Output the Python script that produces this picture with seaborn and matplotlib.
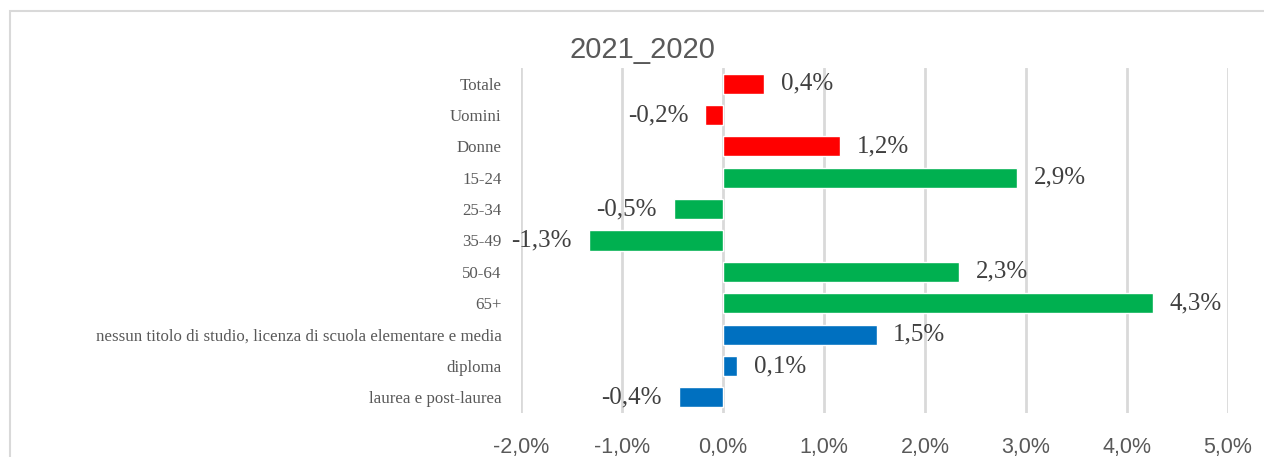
import matplotlib
matplotlib.use("Agg")
import matplotlib.pyplot as plt
import seaborn as sns
import pandas as pd
from matplotlib.patches import Rectangle

# ---- data ----
categories = ["Totale", "Uomini", "Donne", "15-24", "25-34", "35-49", "50-64", "65+",
              "nessun titolo di studio, licenza di scuola elementare e media",
              "diploma", "laurea e post-laurea"]
values = [0.0041, -0.0018, 0.0116, 0.0291, -0.0049, -0.0133, 0.0234, 0.0426, 0.0152, 0.0014, -0.0044]
value_labels = ["0,4%", "-0,2%", "1,2%", "2,9%", "-0,5%", "-1,3%", "2,3%", "4,3%", "1,5%", "0,1%", "-0,4%"]
groups = ["Totale", "Totale", "Totale", "Età", "Età", "Età", "Età", "Età",
          "Titolo", "Titolo", "Titolo"]
x_ticks = [-0.02, -0.01, 0.0, 0.01, 0.02, 0.03, 0.04, 0.05]
x_tick_labels = ["-2,0%", "-1,0%", "0,0%", "1,0%", "2,0%", "3,0%", "4,0%", "5,0%"]
title = "2021_2020"
palette = {"Totale": "#FF0000", "Età": "#00B050", "Titolo": "#0070C0"}

df = pd.DataFrame({"categoria": categories, "valore": values, "gruppo": groups})

sns.set_theme(style="white")
plt.rcParams["font.family"] = ["Liberation Serif", "DejaVu Serif"]

W, H = 1264, 457
fig = plt.figure(figsize=(W / 100, H / 100), dpi=100)
ax = fig.add_axes([521 / W, 1 - 413 / H, (1228 - 521) / W, (413 - 68) / H])

sns.barplot(data=df, y="categoria", x="valore", hue="gruppo", palette=palette,
            dodge=False, width=0.64, orient="h", legend=False, ax=ax,
            saturation=1, order=categories)

ax.set_xlim(-0.02, 0.05)
ax.set_ylim(len(categories) - 0.5, -0.5)
ax.set_xticks(x_ticks)
ax.set_xticklabels(x_tick_labels, fontfamily=["Liberation Sans", "DejaVu Sans"],
                   fontsize=15.5, color="#595959")
ax.tick_params(axis="x", length=0, pad=17)
ax.tick_params(axis="y", length=0, pad=14, labelsize=12.2, labelcolor="#595959")
ax.set_xlabel("")
ax.set_ylabel("")
ax.grid(axis="x", color="#D9D9D9", linewidth=2)
ax.set_axisbelow(True)
for s in ax.spines.values():
    s.set_visible(False)

for i, (v, lab) in enumerate(zip(values, value_labels)):
    off = 12 if v >= 0 else -12
    ax.annotate(lab, xy=(v, i), xytext=(off, 0), textcoords="offset points",
                ha="left" if v >= 0 else "right", va="center",
                fontsize=18, color="#404040")

fig.text(642 / W, 1 - 50 / H, title, ha="center", va="center",
         fontsize=21, color="#595959", fontfamily=["Liberation Sans", "DejaVu Sans"])

fig.patches.append(Rectangle((10 / W, -0.1), 1.2, 1 - 11 / H + 0.1, transform=fig.transFigure,
                             fill=False, edgecolor="#D9D9D9", linewidth=1.5))

fig.savefig("out.png", dpi=100)
